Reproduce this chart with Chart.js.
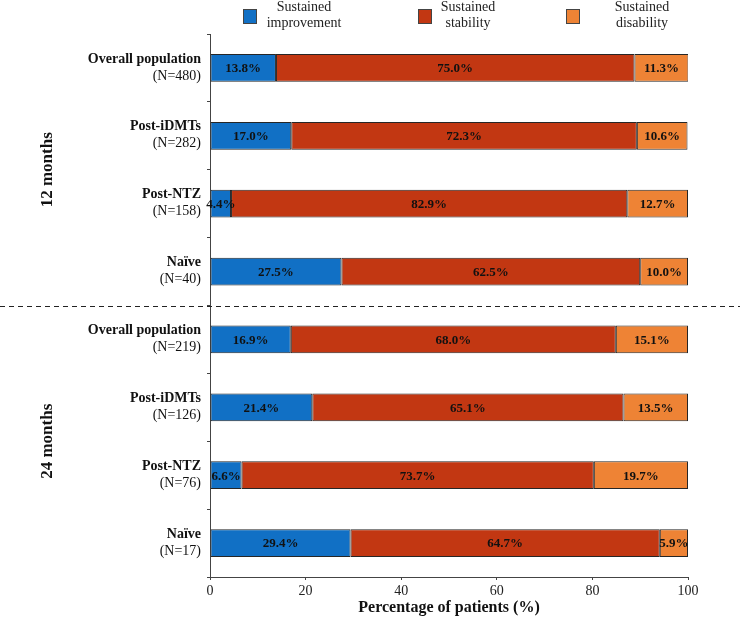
<!DOCTYPE html>
<html><head><meta charset="utf-8">
<script src="https://cdn.jsdelivr.net/npm/chart.js@4/dist/chart.umd.min.js"></script>
<style>html,body{margin:0;padding:0;background:#fff}</style>
</head><body>
<canvas id="c" width="740" height="618"></canvas>
<script>
const groups = ['12 months', '24 months'];
const groupOf = [0, 0, 0, 0, 1, 1, 1, 1];
const categories = ['Overall population', 'Post-iDMTs', 'Post-NTZ', 'Naïve', 'Overall population', 'Post-iDMTs', 'Post-NTZ', 'Naïve'];
const sampleSizes = ['(N=480)', '(N=282)', '(N=158)', '(N=40)', '(N=219)', '(N=126)', '(N=76)', '(N=17)'];
const improvement = [13.8, 17.0, 4.4, 27.5, 16.9, 21.4, 6.6, 29.4];
const stability = [75.0, 72.3, 82.9, 62.5, 68.0, 65.1, 73.7, 64.7];
const disability = [11.3, 10.6, 12.7, 10.0, 15.1, 13.5, 19.7, 5.9];
const seriesNames = ['Sustained improvement', 'Sustained stability', 'Sustained disability'];
const xTicks = [0, 20, 40, 60, 80, 100];
const xTitle = 'Percentage of patients (%)';

const serif = "'Liberation Serif','Times New Roman',serif";
const colors = ['#1170C5', '#C23712', '#EE8335'];
const edge = '#262626';

const overlay = {
  id: 'overlay',
  afterDatasetsDraw(chart) {
    const ctx = chart.ctx;
    ctx.save();
    ctx.font = 'bold 13px ' + serif;
    ctx.fillStyle = '#111';
    ctx.textAlign = 'center';
    ctx.textBaseline = 'middle';
    chart.data.datasets.forEach((ds, di) => {
      chart.getDatasetMeta(di).data.forEach((bar, i) => {
        ctx.fillText(ds.data[i].toFixed(1) + '%', (bar.x + bar.base) / 2, bar.y + 1);
      });
    });
    ctx.restore();
  },
  afterDraw(chart) {
    const ctx = chart.ctx;
    const ys = chart.scales.y;
    ctx.save();
    ctx.textAlign = 'right';
    ctx.textBaseline = 'middle';
    ctx.fillStyle = '#111';
    categories.forEach((c, i) => {
      const y = ys.getPixelForValue(i);
      ctx.font = 'bold 14px ' + serif;
      ctx.fillText(c, 201, y - 9);
      ctx.font = '14px ' + serif;
      ctx.fillText(sampleSizes[i], 201, y + 8);
    });
    groups.forEach((g, gi) => {
      const idx = groupOf.map((v, i) => v === gi ? i : -1).filter(i => i >= 0);
      const y = (ys.getPixelForValue(idx[0]) + ys.getPixelForValue(idx[idx.length - 1])) / 2;
      ctx.save();
      ctx.translate(48, y);
      ctx.rotate(-Math.PI / 2);
      ctx.textAlign = 'center';
      ctx.font = 'bold 17px ' + serif;
      ctx.fillText(g, 0, 0);
      ctx.restore();
    });
    const last0 = groupOf.lastIndexOf(0);
    const sepY = Math.round((ys.getPixelForValue(last0) + ys.getPixelForValue(last0 + 1)) / 2) + 0.5;
    ctx.strokeStyle = '#222';
    ctx.lineWidth = 1;
    ctx.setLineDash([5, 4]);
    ctx.beginPath();
    ctx.moveTo(0, sepY);
    ctx.lineTo(chart.width, sepY);
    ctx.stroke();
    ctx.setLineDash([]);
    const sqX = [243, 418, 566];
    const txX = [304, 468, 642];
    chart.data.datasets.forEach((ds, di) => {
      ctx.fillStyle = ds.backgroundColor;
      ctx.fillRect(sqX[di], 9, 13, 14);
      ctx.strokeStyle = '#444';
      ctx.strokeRect(sqX[di] + 0.5, 9.5, 13, 14);
      const sp = ds.label.indexOf(' ');
      ctx.fillStyle = '#222';
      ctx.font = '14px ' + serif;
      ctx.textAlign = 'center';
      ctx.fillText(ds.label.slice(0, sp), txX[di], 7);
      ctx.fillText(ds.label.slice(sp + 1), txX[di], 23);
    });
    ctx.restore();
  }
};

const seriesData = [improvement, stability, disability];
new Chart(document.getElementById('c'), {
  type: 'bar',
  data: {
    labels: categories.map((c, i) => c + ' ' + sampleSizes[i]),
    datasets: seriesNames.map((n, i) => ({
      label: n,
      data: seriesData[i],
      backgroundColor: colors[i],
      borderColor: edge,
      borderWidth: 1,
      borderSkipped: false,
      inflateAmount: 0,
      categoryPercentage: 1,
      barPercentage: 0.41
    }))
  },
  options: {
    indexAxis: 'y',
    responsive: false,
    animation: false,
    devicePixelRatio: 1,
    layout: { padding: { top: 34, right: 52, left: 0, bottom: 0 } },
    plugins: { legend: { display: false }, tooltip: { enabled: false } },
    scales: {
      y: {
        stacked: true,
        ticks: { display: false },
        grid: { drawOnChartArea: false, tickLength: 3, color: '#444', offset: true },
        border: { color: '#444', width: 1 },
        afterFit(s) { s.width = 210; }
      },
      x: {
        stacked: true,
        min: 0, max: 100,
        afterBuildTicks(s) { s.ticks = xTicks.map(v => ({ value: v })); },
        ticks: { font: { family: serif, size: 14 }, color: '#222', padding: 3, maxRotation: 0 },
        grid: { drawOnChartArea: false, tickLength: 3, color: '#444' },
        border: { color: '#444', width: 1 },
        title: { display: true, text: xTitle, font: { family: serif, size: 16, weight: 'bold' }, color: '#111', padding: { top: 0, bottom: 1 } },
        afterFit(s) { s.height = 41; }
      }
    }
  },
  plugins: [overlay]
});
</script>
</body></html>
